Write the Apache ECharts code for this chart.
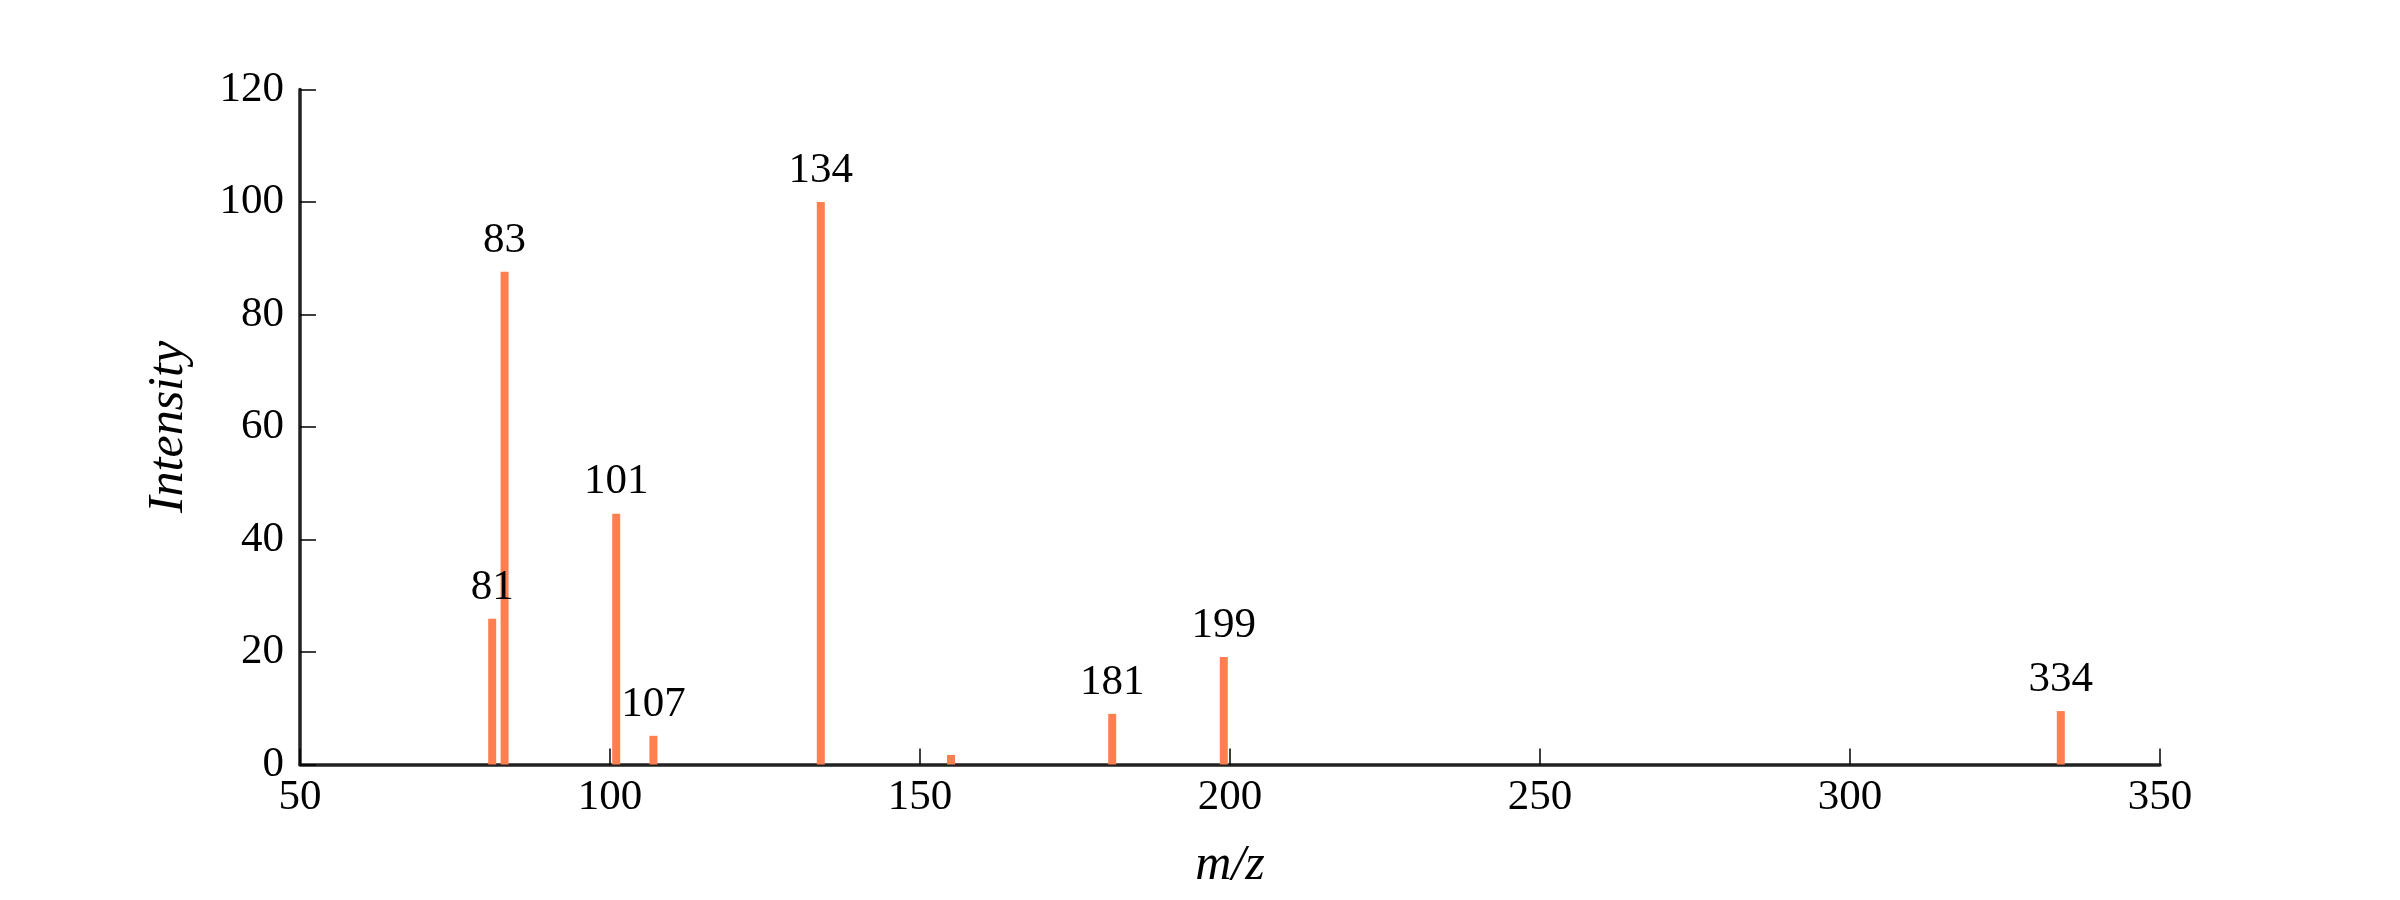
<!DOCTYPE html>
<html>
<head>
<meta charset="utf-8">
<script src="https://cdn.jsdelivr.net/npm/echarts@6/dist/echarts.min.js"></script>
<style>
html,body{margin:0;padding:0;background:#fff;}
#chart{width:2400px;height:900px;}
</style>
</head>
<body>
<div id="chart"></div>
<script>
// m/z positions of peaks
const mzValues = [81, 83, 101, 107, 134, 155, 181, 199, 334];
// relative intensities
const intensities = [25.9, 87.6, 44.6, 5.1, 100, 1.7, 9.0, 19.1, 9.5];
// labels drawn above peaks ('' = none)
const peakLabels = ['81', '83', '101', '107', '134', '', '181', '199', '334'];
const xTicks = [50, 100, 150, 200, 250, 300, 350];
const yTicks = [0, 20, 40, 60, 80, 100, 120];

const FONT = '"Liberation Serif", "Times New Roman", Times, serif';
const chart = echarts.init(document.getElementById('chart'), null, {renderer: 'canvas'});

const data = mzValues.map((x, i) => ({
  value: [x, intensities[i]],
  label: {formatter: peakLabels[i], show: peakLabels[i] !== ''}
}));

chart.setOption({
  animation: false,
  backgroundColor: '#ffffff',
  grid: {left: 300, right: 240, top: 89.5, bottom: 135.5, containLabel: false},
  xAxis: {
    type: 'value',
    min: xTicks[0], max: xTicks[xTicks.length - 1], interval: 50,
    name: 'm/z', nameLocation: 'middle', nameGap: 76,
    nameTextStyle: {fontFamily: FONT, fontStyle: 'italic', fontSize: 50, color: '#000'},
    axisLine: {show: true, lineStyle: {color: '#222', width: 3.5}},
    axisTick: {show: true, inside: true, length: 16, lineStyle: {color: '#000', width: 1.5}},
    axisLabel: {fontFamily: FONT, fontSize: 43, color: '#000', margin: 12},
    splitLine: {show: false}
  },
  yAxis: {
    type: 'value',
    min: yTicks[0], max: yTicks[yTicks.length - 1], interval: 20,
    name: 'Intensity', nameLocation: 'middle', nameGap: 106, nameRotate: 90,
    nameTextStyle: {fontFamily: FONT, fontStyle: 'italic', fontSize: 50, color: '#000'},
    axisLine: {show: true, lineStyle: {color: '#222', width: 3.5}},
    axisTick: {show: true, inside: true, length: 16, lineStyle: {color: '#000', width: 1.5}},
    axisLabel: {fontFamily: FONT, fontSize: 43, color: '#000', margin: 16},
    splitLine: {show: false}
  },
  series: [{
    type: 'bar',
    data: data,
    barWidth: 8,
    itemStyle: {color: '#FF7F50'},
    label: {
      show: true, position: 'top', distance: 10,
      fontFamily: FONT, fontSize: 43, color: '#000'
    }
  }]
});
</script>
</body>
</html>
